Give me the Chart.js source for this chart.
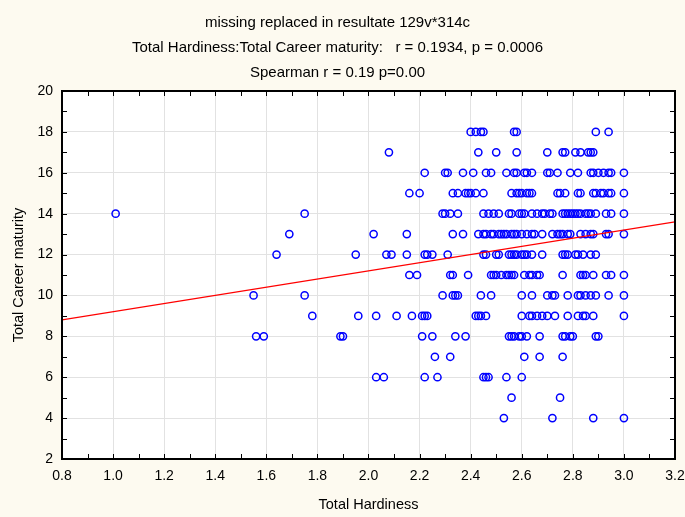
<!DOCTYPE html>
<html>
<head>
<meta charset="utf-8">
<script src="https://cdn.jsdelivr.net/npm/chart.js@4.4.1/dist/chart.umd.min.js"></script>
<style>
  html, body { margin: 0; padding: 0; background: #fdfaf0; }
  #wrap { width: 685px; height: 517px; position: relative; }
</style>
</head>
<body>
<div id="wrap"><canvas id="c"></canvas></div>
<script>
// Title lines
const titleLines = [
  'missing replaced in resultate 129v*314c',
  'Total Hardiness:Total Career maturity:   r = 0.1934, p = 0.0006',
  'Spearman r = 0.19 p=0.00'
];
const xTitle = 'Total Hardiness';
const yTitle = 'Total Career maturity';

// Career maturity levels (y) and the hardiness values (x) observed at each level
const careerLevels = [18, 17, 16, 15, 14, 13, 12, 11, 10, 9, 8, 7, 6, 5, 4];
const hardiness18 = [2.40, 2.42, 2.44, 2.45, 2.57, 2.58, 2.89, 2.94];
const hardiness17 = [2.08, 2.43, 2.50, 2.58, 2.70, 2.76, 2.77, 2.81, 2.83, 2.86, 2.87, 2.88];
const hardiness16 = [2.22, 2.30, 2.31, 2.37, 2.41, 2.46, 2.48, 2.54, 2.57, 2.58, 2.61, 2.62, 2.64, 2.70, 2.71, 2.74, 2.79, 2.82, 2.87, 2.88, 2.90, 2.92, 2.94, 2.95, 3.00];
const hardiness15 = [2.16, 2.20, 2.33, 2.35, 2.38, 2.39, 2.40, 2.42, 2.45, 2.56, 2.58, 2.59, 2.60, 2.62, 2.63, 2.64, 2.74, 2.75, 2.77, 2.82, 2.83, 2.88, 2.89, 2.91, 2.92, 2.94, 2.95, 3.00];
const hardiness14 = [1.01, 1.75, 2.29, 2.30, 2.32, 2.35, 2.45, 2.47, 2.49, 2.51, 2.55, 2.56, 2.59, 2.60, 2.61, 2.64, 2.66, 2.68, 2.69, 2.71, 2.72, 2.76, 2.77, 2.78, 2.79, 2.80, 2.81, 2.82, 2.83, 2.85, 2.86, 2.87, 2.89, 2.93, 2.95, 3.00];
const hardiness13 = [1.69, 2.02, 2.15, 2.33, 2.37, 2.43, 2.45, 2.46, 2.48, 2.49, 2.51, 2.52, 2.53, 2.54, 2.56, 2.57, 2.58, 2.60, 2.62, 2.64, 2.65, 2.68, 2.72, 2.74, 2.75, 2.76, 2.78, 2.79, 2.83, 2.85, 2.87, 2.88, 2.93, 2.94, 3.00];
const hardiness12 = [1.64, 1.95, 2.07, 2.09, 2.15, 2.22, 2.23, 2.25, 2.31, 2.45, 2.46, 2.50, 2.51, 2.55, 2.56, 2.57, 2.58, 2.60, 2.61, 2.62, 2.64, 2.68, 2.76, 2.77, 2.78, 2.81, 2.82, 2.84, 2.87, 2.89];
const hardiness11 = [2.16, 2.19, 2.32, 2.33, 2.39, 2.48, 2.49, 2.50, 2.52, 2.54, 2.55, 2.56, 2.57, 2.61, 2.63, 2.64, 2.66, 2.67, 2.76, 2.83, 2.84, 2.85, 2.88, 2.93, 2.95, 3.00];
const hardiness10 = [1.55, 1.75, 2.29, 2.33, 2.34, 2.35, 2.44, 2.48, 2.60, 2.64, 2.70, 2.72, 2.73, 2.78, 2.82, 2.83, 2.85, 2.87, 2.89, 2.94, 3.00];
const hardiness9 = [1.78, 1.96, 2.03, 2.11, 2.17, 2.21, 2.22, 2.23, 2.42, 2.43, 2.44, 2.46, 2.60, 2.63, 2.64, 2.66, 2.68, 2.70, 2.73, 2.78, 2.82, 2.84, 2.85, 2.88, 3.00];
const hardiness8 = [1.56, 1.59, 1.89, 1.90, 2.21, 2.25, 2.34, 2.38, 2.55, 2.56, 2.57, 2.59, 2.60, 2.62, 2.67, 2.76, 2.77, 2.79, 2.80, 2.89, 2.90];
const hardiness7 = [2.26, 2.32, 2.61, 2.67, 2.76];
const hardiness6 = [2.03, 2.06, 2.22, 2.27, 2.45, 2.46, 2.47, 2.54, 2.60];
const hardiness5 = [2.56, 2.75];
const hardiness4 = [2.53, 2.72, 2.88, 3.00];

const hardinessByLevel = [hardiness18, hardiness17, hardiness16, hardiness15, hardiness14, hardiness13,
  hardiness12, hardiness11, hardiness10, hardiness9, hardiness8, hardiness7, hardiness6, hardiness5, hardiness4];

// Regression line end points
const fitX = [0.8, 3.2];
const fitY = [8.8, 13.6];

// Axis ranges
const xMin = 0.8, xMax = 3.2, xStep = 0.1;
const yMin = 2, yMax = 20, yStep = 1;

const points = [];
careerLevels.forEach((lvl, i) => {
  hardinessByLevel[i].forEach(h => points.push({ x: h, y: lvl }));
});
const fitPoints = fitX.map((x, i) => ({ x: x, y: fitY[i] }));

const FONT = '"Liberation Sans", Arial, Helvetica, sans-serif';

const framePlugin = {
  id: 'frame',
  beforeDraw(chart) {
    const { ctx, chartArea: { left, top, right, bottom } } = chart;
    ctx.save();
    ctx.fillStyle = '#fdfaf0';
    ctx.fillRect(0, 0, chart.width, chart.height);
    ctx.fillStyle = '#ffffff';
    ctx.fillRect(left, top, right - left, bottom - top);
    ctx.restore();
  },
  afterDatasetsDraw(chart) {
    const { ctx, chartArea: { left, top, right, bottom }, scales: { x, y } } = chart;
    ctx.save();
    ctx.strokeStyle = '#000';
    ctx.lineWidth = 1;
    ctx.beginPath();
    x.ticks.forEach(t => {
      const px = Math.round(x.getPixelForValue(t.value)) + 0.5;
      ctx.moveTo(px, bottom); ctx.lineTo(px, bottom - 5);
      ctx.moveTo(px, top); ctx.lineTo(px, top + 5);
    });
    y.ticks.forEach(t => {
      const py = Math.round(y.getPixelForValue(t.value)) + 0.5;
      ctx.moveTo(left, py); ctx.lineTo(left + 5, py);
      ctx.moveTo(right, py); ctx.lineTo(right - 5, py);
    });
    ctx.stroke();
    ctx.lineWidth = 2;
    ctx.strokeRect(left, top, right - left, bottom - top);
    ctx.restore();
  }
};

const isMajorX = v => Math.abs(Math.round(v * 10)) % 2 === 0;
const isMajorY = v => Math.round(v) % 2 === 0;

new Chart(document.getElementById('c'), {
  type: 'scatter',
  data: {
    datasets: [
      {
        type: 'line',
        data: fitPoints,
        borderColor: '#ff0000',
        borderWidth: 1.2,
        pointRadius: 0,
        fill: false,
        order: 0
      },
      {
        data: points,
        pointStyle: 'circle',
        pointRadius: 3.6,
        pointBorderWidth: 1.5,
        pointBorderColor: '#0000ff',
        pointBackgroundColor: 'rgba(0,0,0,0)',
        showLine: false,
        order: 1
      }
    ]
  },
  options: {
    responsive: true,
    maintainAspectRatio: false,
    animation: false,
    layout: { padding: { left: 0, right: 10, top: 0, bottom: 0 } },
    plugins: {
      legend: { display: false },
      tooltip: { enabled: false },
      title: {
        display: true,
        text: titleLines,
        color: '#000',
        font: { family: FONT, size: 15, weight: 'normal', lineHeight: 25 / 15 },
        padding: { top: 10, bottom: 6 }
      }
    },
    scales: {
      x: {
        type: 'linear',
        min: xMin, max: xMax,
        afterFit(scale) { scale.height = 58; scale.paddingRight = 0; scale.paddingLeft = 0; },
        ticks: {
          stepSize: xStep,
          autoSkip: false,
          maxRotation: 0,
          padding: 9,
          color: '#000',
          font: { family: FONT, size: 14 },
          callback: v => isMajorX(v) ? Number(v).toFixed(1) : ''
        },
        grid: {
          drawTicks: false,
          lineWidth: 1,
          color: c => isMajorX(c.tick.value) ? '#e2e2e2' : 'rgba(0,0,0,0)'
        },
        border: { display: false },
        title: {
          display: true,
          text: xTitle,
          color: '#000',
          font: { family: FONT, size: 14.5 },
          padding: { top: 0, bottom: 3 }
        }
      },
      y: {
        type: 'linear',
        min: yMin, max: yMax,
        afterFit(scale) { scale.width = 62; },
        ticks: {
          stepSize: yStep,
          autoSkip: false,
          padding: 9,
          color: '#000',
          font: { family: FONT, size: 14 },
          callback: v => isMajorY(v) ? String(v) : ''
        },
        grid: {
          drawTicks: false,
          lineWidth: 1,
          color: c => isMajorY(c.tick.value) ? '#e2e2e2' : 'rgba(0,0,0,0)'
        },
        border: { display: false },
        title: {
          display: true,
          text: yTitle,
          color: '#000',
          font: { family: FONT, size: 14.5 },
          padding: { top: 10, bottom: 0 }
        }
      }
    }
  },
  plugins: [framePlugin]
});
</script>
</body>
</html>
